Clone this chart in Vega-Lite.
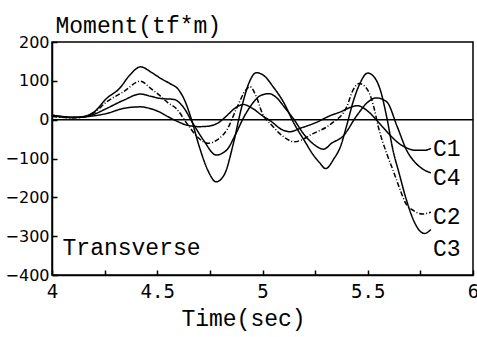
{
  "$schema": "https://vega.github.io/schema/vega-lite/v6.json",
  "width": 421,
  "height": 233,
  "autosize": {"type": "none"},
  "padding": {"left": 52, "top": 42, "right": 4, "bottom": 62},
  "background": "white",
  "config": {
    "view": {"stroke": "black", "strokeWidth": 1.5},
    "axis": {"grid": false, "labelOverlap": false, "domainColor": "black", "domainWidth": 1.5, "tickColor": "black", "labelColor": "black", "titleColor": "black"}
  },
  "datasets": {
    "curves": [
      {"t": 4.0, "m": 0, "s": "Z"}, {"t": 6.0, "m": 0, "s": "Z"},
      {"t": 4.00, "m": 12, "s": "C1"}, {"t": 4.10, "m": 6, "s": "C1"}, {"t": 4.15, "m": 7, "s": "C1"}, {"t": 4.20, "m": 10, "s": "C1"},
      {"t": 4.26, "m": 16, "s": "C1"}, {"t": 4.34, "m": 29, "s": "C1"}, {"t": 4.42, "m": 33, "s": "C1"}, {"t": 4.47, "m": 28, "s": "C1"},
      {"t": 4.51, "m": 20, "s": "C1"}, {"t": 4.55, "m": 8, "s": "C1"}, {"t": 4.59, "m": -3, "s": "C1"}, {"t": 4.64, "m": -14, "s": "C1"},
      {"t": 4.70, "m": -18, "s": "C1"}, {"t": 4.74, "m": -17, "s": "C1"}, {"t": 4.79, "m": -8, "s": "C1"}, {"t": 4.83, "m": 10, "s": "C1"},
      {"t": 4.87, "m": 30, "s": "C1"}, {"t": 4.91, "m": 39, "s": "C1"}, {"t": 4.95, "m": 30, "s": "C1"}, {"t": 5.00, "m": 10, "s": "C1"},
      {"t": 5.04, "m": -4, "s": "C1"}, {"t": 5.09, "m": -25, "s": "C1"}, {"t": 5.13, "m": -31, "s": "C1"}, {"t": 5.18, "m": -22, "s": "C1"},
      {"t": 5.26, "m": -6, "s": "C1"}, {"t": 5.32, "m": 10, "s": "C1"}, {"t": 5.37, "m": 20, "s": "C1"}, {"t": 5.42, "m": 32, "s": "C1"},
      {"t": 5.45, "m": 36, "s": "C1"}, {"t": 5.50, "m": 22, "s": "C1"}, {"t": 5.54, "m": 0, "s": "C1"}, {"t": 5.57, "m": -18, "s": "C1"},
      {"t": 5.61, "m": -42, "s": "C1"}, {"t": 5.65, "m": -62, "s": "C1"}, {"t": 5.69, "m": -74, "s": "C1"}, {"t": 5.73, "m": -79, "s": "C1"},
      {"t": 5.77, "m": -79, "s": "C1"}, {"t": 5.80, "m": -74, "s": "C1"},

      {"t": 4.00, "m": 8, "s": "C2"}, {"t": 4.10, "m": 5, "s": "C2"}, {"t": 4.15, "m": 7, "s": "C2"}, {"t": 4.20, "m": 18, "s": "C2"},
      {"t": 4.26, "m": 46, "s": "C2"}, {"t": 4.34, "m": 72, "s": "C2"}, {"t": 4.42, "m": 99, "s": "C2"}, {"t": 4.47, "m": 80, "s": "C2"},
      {"t": 4.51, "m": 63, "s": "C2"}, {"t": 4.55, "m": 44, "s": "C2"}, {"t": 4.59, "m": 29, "s": "C2"}, {"t": 4.64, "m": -9, "s": "C2"},
      {"t": 4.69, "m": -44, "s": "C2"}, {"t": 4.74, "m": -61, "s": "C2"}, {"t": 4.79, "m": -50, "s": "C2"}, {"t": 4.83, "m": -27, "s": "C2"},
      {"t": 4.88, "m": 33, "s": "C2"}, {"t": 4.92, "m": 76, "s": "C2"}, {"t": 4.94, "m": 85, "s": "C2"}, {"t": 4.97, "m": 60, "s": "C2"},
      {"t": 5.00, "m": 15, "s": "C2"}, {"t": 5.04, "m": -12, "s": "C2"}, {"t": 5.10, "m": -44, "s": "C2"}, {"t": 5.15, "m": -57, "s": "C2"},
      {"t": 5.24, "m": -36, "s": "C2"}, {"t": 5.33, "m": -9, "s": "C2"}, {"t": 5.40, "m": 33, "s": "C2"}, {"t": 5.43, "m": 76, "s": "C2"},
      {"t": 5.46, "m": 93, "s": "C2"}, {"t": 5.50, "m": 76, "s": "C2"}, {"t": 5.53, "m": 30, "s": "C2"}, {"t": 5.55, "m": -18, "s": "C2"},
      {"t": 5.59, "m": -87, "s": "C2"}, {"t": 5.62, "m": -130, "s": "C2"}, {"t": 5.65, "m": -175, "s": "C2"}, {"t": 5.68, "m": -215, "s": "C2"},
      {"t": 5.72, "m": -235, "s": "C2"}, {"t": 5.76, "m": -243, "s": "C2"}, {"t": 5.80, "m": -238, "s": "C2"},

      {"t": 4.00, "m": 10, "s": "C3"}, {"t": 4.05, "m": 8, "s": "C3"}, {"t": 4.10, "m": 6, "s": "C3"}, {"t": 4.15, "m": 8, "s": "C3"},
      {"t": 4.20, "m": 20, "s": "C3"}, {"t": 4.26, "m": 55, "s": "C3"}, {"t": 4.32, "m": 80, "s": "C3"}, {"t": 4.37, "m": 115, "s": "C3"},
      {"t": 4.42, "m": 136, "s": "C3"}, {"t": 4.48, "m": 119, "s": "C3"}, {"t": 4.52, "m": 105, "s": "C3"}, {"t": 4.56, "m": 93, "s": "C3"},
      {"t": 4.60, "m": 78, "s": "C3"}, {"t": 4.63, "m": 50, "s": "C3"}, {"t": 4.66, "m": 5, "s": "C3"}, {"t": 4.70, "m": -70, "s": "C3"},
      {"t": 4.74, "m": -130, "s": "C3"}, {"t": 4.78, "m": -160, "s": "C3"}, {"t": 4.82, "m": -140, "s": "C3"}, {"t": 4.86, "m": -65, "s": "C3"},
      {"t": 4.90, "m": 30, "s": "C3"}, {"t": 4.94, "m": 100, "s": "C3"}, {"t": 4.97, "m": 121, "s": "C3"}, {"t": 5.01, "m": 112, "s": "C3"},
      {"t": 5.05, "m": 85, "s": "C3"}, {"t": 5.10, "m": 45, "s": "C3"}, {"t": 5.15, "m": -10, "s": "C3"}, {"t": 5.20, "m": -55, "s": "C3"},
      {"t": 5.24, "m": -90, "s": "C3"}, {"t": 5.27, "m": -110, "s": "C3"}, {"t": 5.30, "m": -126, "s": "C3"}, {"t": 5.34, "m": -100, "s": "C3"},
      {"t": 5.37, "m": -70, "s": "C3"}, {"t": 5.40, "m": -15, "s": "C3"}, {"t": 5.43, "m": 45, "s": "C3"}, {"t": 5.46, "m": 90, "s": "C3"},
      {"t": 5.50, "m": 120, "s": "C3"}, {"t": 5.53, "m": 110, "s": "C3"}, {"t": 5.56, "m": 76, "s": "C3"}, {"t": 5.59, "m": 7, "s": "C3"},
      {"t": 5.62, "m": -79, "s": "C3"}, {"t": 5.65, "m": -140, "s": "C3"}, {"t": 5.68, "m": -200, "s": "C3"}, {"t": 5.72, "m": -262, "s": "C3"},
      {"t": 5.75, "m": -288, "s": "C3"}, {"t": 5.77, "m": -293, "s": "C3"}, {"t": 5.80, "m": -283, "s": "C3"},

      {"t": 4.00, "m": 10, "s": "C4"}, {"t": 4.10, "m": 5, "s": "C4"}, {"t": 4.15, "m": 7, "s": "C4"}, {"t": 4.20, "m": 14, "s": "C4"},
      {"t": 4.26, "m": 29, "s": "C4"}, {"t": 4.34, "m": 50, "s": "C4"}, {"t": 4.42, "m": 66, "s": "C4"}, {"t": 4.47, "m": 60, "s": "C4"},
      {"t": 4.51, "m": 55, "s": "C4"}, {"t": 4.58, "m": 52, "s": "C4"}, {"t": 4.62, "m": 35, "s": "C4"}, {"t": 4.67, "m": -10, "s": "C4"},
      {"t": 4.72, "m": -53, "s": "C4"}, {"t": 4.78, "m": -91, "s": "C4"}, {"t": 4.83, "m": -78, "s": "C4"}, {"t": 4.87, "m": -40, "s": "C4"},
      {"t": 4.91, "m": 5, "s": "C4"}, {"t": 4.95, "m": 40, "s": "C4"}, {"t": 4.99, "m": 62, "s": "C4"}, {"t": 5.03, "m": 67, "s": "C4"},
      {"t": 5.07, "m": 55, "s": "C4"}, {"t": 5.10, "m": 35, "s": "C4"}, {"t": 5.15, "m": 0, "s": "C4"}, {"t": 5.20, "m": -40, "s": "C4"},
      {"t": 5.24, "m": -62, "s": "C4"}, {"t": 5.29, "m": -76, "s": "C4"}, {"t": 5.33, "m": -60, "s": "C4"}, {"t": 5.38, "m": -44, "s": "C4"},
      {"t": 5.45, "m": 12, "s": "C4"}, {"t": 5.50, "m": 45, "s": "C4"}, {"t": 5.54, "m": 56, "s": "C4"}, {"t": 5.59, "m": 46, "s": "C4"},
      {"t": 5.64, "m": -18, "s": "C4"}, {"t": 5.685, "m": -79, "s": "C4"}, {"t": 5.73, "m": -113, "s": "C4"}, {"t": 5.77, "m": -130, "s": "C4"},
      {"t": 5.80, "m": -137, "s": "C4"}
    ],
    "labels": [
      {"t": 5.81, "m": -76, "txt": "C1"},
      {"t": 5.81, "m": -150, "txt": "C4"},
      {"t": 5.81, "m": -250, "txt": "C2"},
      {"t": 5.81, "m": -333, "txt": "C3"},
      {"t": 4.05, "m": -331, "txt": "Transverse"}
    ]
  },
  "encoding": {
    "x": {
      "field": "t", "type": "quantitative",
      "scale": {"domain": [4, 6], "nice": false, "zero": false},
      "axis": {
        "values": [4, 4.25, 4.5, 4.75, 5, 5.25, 5.5, 5.75, 6],
        "labelExpr": "(datum.value * 2) % 1 == 0 ? toString(datum.value) : ''",
        "labelOverlap": false,
        "tickSize": -5, "tickWidth": 1.5,
        "labelFont": "DejaVu Sans Mono", "labelFontSize": 19, "labelPadding": 12, "labelFlush": false,
        "title": "Time(sec)", "titleFont": "Liberation Mono", "titleFontSize": 23, "titleFontWeight": "normal",
        "titleX": 191, "titleY": 50, "titleBaseline": "alphabetic", "titleAlign": "center"
      }
    },
    "y": {
      "field": "m", "type": "quantitative",
      "scale": {"domain": [-400, 200], "nice": false},
      "axis": {
        "values": [-400, -300, -200, -100, 0, 100, 200],
        "format": "d",
        "labelOverlap": false,
        "tickSize": -5, "tickWidth": 1.5,
        "labelFont": "DejaVu Sans", "labelFontSize": 16, "labelPadding": 8, "labelFlush": false,
        "title": "Moment(tf*m)", "titleFont": "Liberation Mono", "titleFontSize": 23, "titleFontWeight": "normal",
        "titleAngle": 0, "titleAlign": "left", "titleBaseline": "alphabetic", "titleX": 3, "titleY": -10
      }
    }
  },
  "layer": [
    {
      "data": {"name": "curves"},
      "mark": {"type": "line", "color": "black", "strokeWidth": 1.5, "interpolate": "monotone"},
      "encoding": {
        "strokeDash": {
          "field": "s", "type": "nominal",
          "scale": {"domain": ["C1", "C2", "C3", "C4", "Z"], "range": [[1, 0], [5, 2, 1, 2], [1, 0], [1, 0], [1, 0]]},
          "legend": null
        }
      }
    },
    {
      "data": {"name": "labels"},
      "mark": {"type": "text", "align": "left", "baseline": "middle", "font": "Liberation Mono", "fontSize": 23, "color": "black"},
      "encoding": {
        "text": {"field": "txt"}
      }
    }
  ]
}
